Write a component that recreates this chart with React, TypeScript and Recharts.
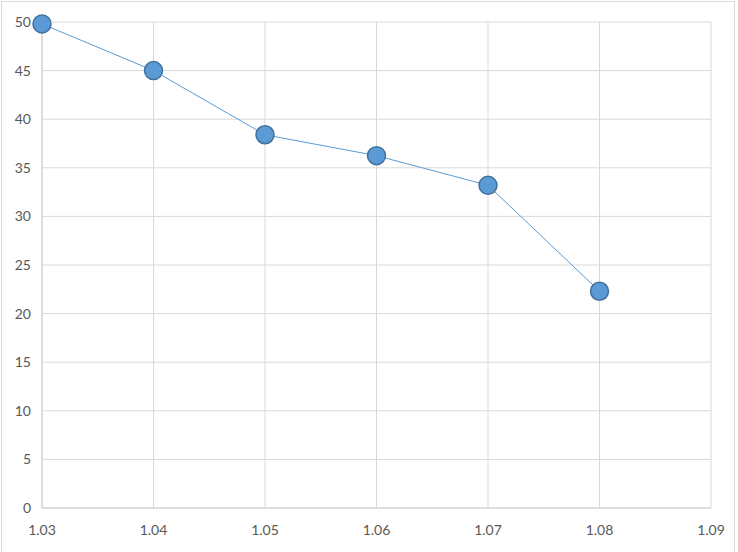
import { CartesianGrid, Line, LineChart, XAxis, YAxis } from "recharts";

const ratios = [1.03, 1.04, 1.05, 1.06, 1.07, 1.08];
const values = [49.8, 45, 38.4, 36.25, 33.2, 22.3];
const xTicks = [1.03, 1.04, 1.05, 1.06, 1.07, 1.08, 1.09];
const yTicks = [0, 5, 10, 15, 20, 25, 30, 35, 40, 45, 50];

const data = ratios.map((x, i) => ({ x, y: values[i] }));

const tickStyle = { fill: "#595959", fontSize: 14, fontFamily: "Lato, 'Open Sans', sans-serif" };

export default function App() {
  return (
    <div style={{ position: "fixed", left: 0, top: 0, width: 738, height: 552, background: "#fff", overflow: "hidden" }}>
      <div
        style={{
          position: "absolute",
          left: 1,
          top: 1,
          width: 732,
          height: 560,
          border: "1px solid #d9d9d9",
        }}
      />
      <LineChart
        width={738}
        height={552}
        data={data}
        margin={{ top: 22, right: 27, bottom: 14, left: 0 }}
        style={{ position: "absolute", left: 0, top: 0 }}
      >
        <CartesianGrid stroke="#d9d9d9" strokeWidth={1} />
        <XAxis
          dataKey="x"
          type="number"
          domain={[1.03, 1.09]}
          ticks={xTicks}
          tickFormatter={(v: number) => v.toFixed(2)}
          tickLine={false}
          tickSize={6}
          tickMargin={11}
          height={30}
          stroke="#d0d0d0"
          tick={tickStyle}
          interval={0}
        />
        <YAxis
          type="number"
          domain={[0, 50]}
          ticks={yTicks}
          tickLine={false}
          tickSize={6}
          tickMargin={5}
          width={42}
          stroke="#d0d0d0"
          tick={tickStyle}
          interval={0}
        />
        <Line
          dataKey="y"
          type="linear"
          stroke="#5b9bd5"
          strokeWidth={1}
          dot={{ r: 9, fill: "#5b9bd5", stroke: "#41719c", strokeWidth: 1.5 }}
          activeDot={false}
          isAnimationActive={false}
        />
      </LineChart>
    </div>
  );
}
